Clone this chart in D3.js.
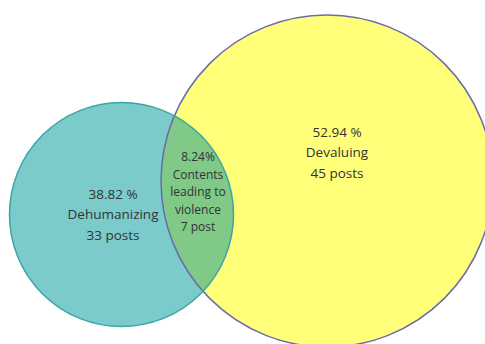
<!DOCTYPE html>
<html>
<head>
<meta charset="utf-8">
<script src="https://cdn.jsdelivr.net/npm/d3@7"></script>
<style>
  body { margin: 0; background: #fff; }
  svg text { font-family: "Open Sans", "Noto Sans", sans-serif; fill: #333; }
</style>
</head>
<body>
<svg id="chart" width="485" height="344"></svg>
<script>
// sets and overlap
var setNames = ['Dehumanizing', 'Devaluing'];
var setPercents = ['38.82 %', '52.94 %'];
var setPosts = [33, 45];
var overlapLines = ['8.24%', 'Contents', 'leading to', 'violence', '7 post'];
var overlapPosts = 7;

var svg = d3.select('#chart');

// circle totals (own + shared posts)
var totals = setPosts.map(function(p) { return p + overlapPosts; });

// radius scale, picture circles are not area proportional
var rScale = d3.scaleLinear()
    .domain([40, 52])
    .range([112, 166]);

// centre positions in the drawing
var xScale = d3.scaleOrdinal()
    .domain(setNames)
    .range([121.5, 327]);
var yScale = d3.scaleOrdinal()
    .domain(setNames)
    .range([214.5, 181]);

var fills = ['#7ccbcb', '#ffff7a'];
var strokes = ['#3ba6a8', '#6b6bab'];

var circles = setNames.map(function(name, i) {
    return {
        name: name,
        cx: xScale(name),
        cy: yScale(name),
        r: rScale(totals[i]),
        fill: fills[i],
        stroke: strokes[i],
        pct: setPercents[i],
        posts: setPosts[i]
    };
});

// clip path for the lens
svg.append('defs').append('clipPath')
    .attr('id', 'clipTeal')
    .append('circle')
    .attr('cx', circles[0].cx)
    .attr('cy', circles[0].cy)
    .attr('r', circles[0].r);

// yellow first, teal on top of it
var order = [circles[1], circles[0]];
svg.selectAll('circle.set')
    .data(order)
    .enter().append('circle')
    .attr('class', 'set')
    .attr('cx', function(d) { return d.cx; })
    .attr('cy', function(d) { return d.cy; })
    .attr('r', function(d) { return d.r; })
    .attr('fill', function(d) { return d.fill; })
    .attr('stroke', 'none');

// overlap region
svg.append('circle')
    .attr('cx', circles[1].cx)
    .attr('cy', circles[1].cy)
    .attr('r', circles[1].r)
    .attr('clip-path', 'url(#clipTeal)')
    .attr('fill', '#80c987');

// outlines
svg.selectAll('circle.outline')
    .data(order)
    .enter().append('circle')
    .attr('class', 'outline')
    .attr('cx', function(d) { return d.cx; })
    .attr('cy', function(d) { return d.cy; })
    .attr('r', function(d) { return d.r; })
    .attr('fill', 'none')
    .attr('stroke', function(d) { return d.stroke; })
    .attr('stroke-width', 1.5);

// set labels
var labelX = [113, 337];
var labelY = [195, 133];
circles.forEach(function(c, i) {
    var lines = [c.pct, c.name, c.posts + ' posts'];
    svg.append('g')
        .selectAll('text')
        .data(lines)
        .enter().append('text')
        .attr('x', labelX[i])
        .attr('y', function(d, j) { return labelY[i] + j * 20.5; })
        .attr('text-anchor', 'middle')
        .attr('dominant-baseline', 'middle')
        .attr('font-size', 13.5)
        .text(function(d) { return d; });
});

// overlap label
svg.append('g')
    .selectAll('text')
    .data(overlapLines)
    .enter().append('text')
    .attr('x', 198)
    .attr('y', function(d, j) { return 158 + j * 17.5; })
    .attr('text-anchor', 'middle')
    .attr('dominant-baseline', 'middle')
    .attr('font-size', 12)
    .text(function(d) { return d; });
</script>
</body>
</html>
